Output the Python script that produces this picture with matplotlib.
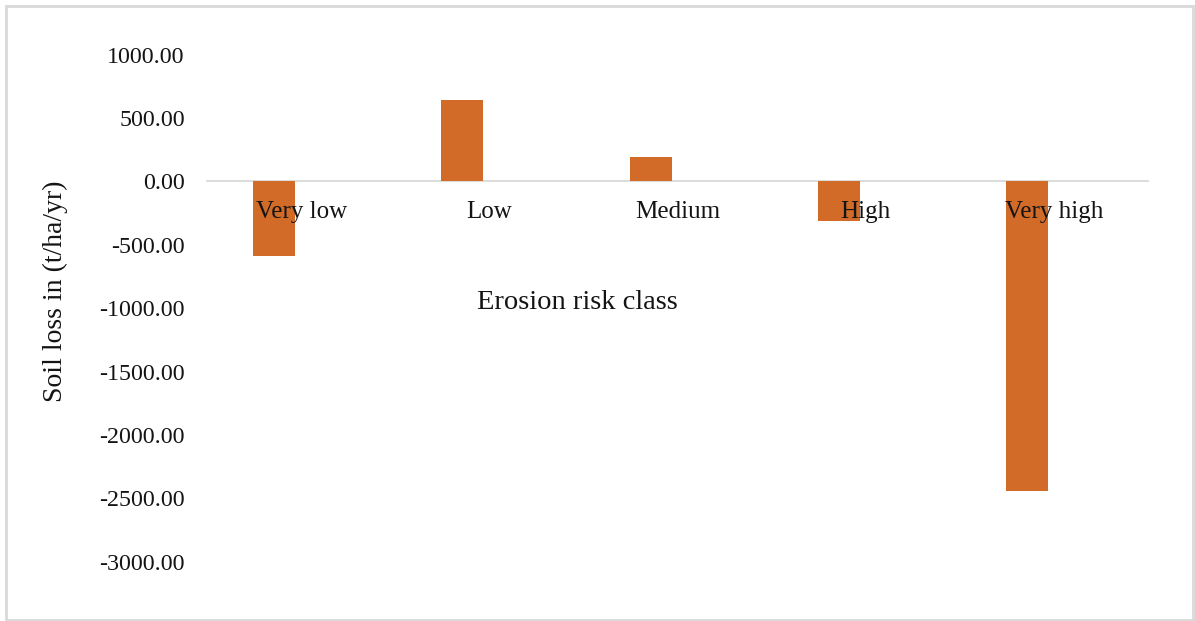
import matplotlib
matplotlib.use("Agg")
import matplotlib.pyplot as plt
import numpy as np
from matplotlib.patches import Rectangle
from matplotlib.ticker import FormatStrFormatter, FixedLocator

# Soil loss change per erosion risk class
categories = ["Very low", "Low", "Medium", "High", "Very high"]
soil_loss = [-590, 640, 195, -310, -2440]
y_ticks = [1000, 500, 0, -500, -1000, -1500, -2000, -2500, -3000]

BAR_COLOR = "#D26A28"
GRID_COLOR = "#D9D9D9"
TEXT_COLOR = "#141414"
plt.rcParams["font.family"] = ["Liberation Serif", "DejaVu Serif"]

W, H = 1195, 621
fig = plt.figure(figsize=(W / 100, H / 100), dpi=100)

# plot area in pixels
left_px, right_px = 207, 1148
y0_px, px_per_1000 = 181.5, 126.7
ymin, ymax = -3350, 1000
top_px = y0_px - ymax / 1000 * px_per_1000
bot_px = y0_px - ymin / 1000 * px_per_1000
ax = fig.add_axes([left_px / W, 1 - bot_px / H,
                   (right_px - left_px) / W, (bot_px - top_px) / H])

x = np.arange(len(categories))
cat_px = (right_px - left_px) / len(categories)
bar_offset = -27 / cat_px
bar_width = 42 / cat_px
ax.bar(x + bar_offset, soil_loss, width=bar_width, color=BAR_COLOR, zorder=2)

ax.set_xlim(-0.5, len(categories) - 0.5)
ax.set_ylim(ymin, ymax)

for side in ("left", "right", "top"):
    ax.spines[side].set_visible(False)
ax.spines["bottom"].set_position(("data", 0))
ax.spines["bottom"].set_color(GRID_COLOR)
ax.spines["bottom"].set_linewidth(1.3)
ax.spines["bottom"].set_zorder(1)

# category labels sit next to the zero axis, drawn above the bars
ax.set_xticks([])
for xi, name in zip(x, categories):
    ax.annotate(name, xy=(xi, 0), xycoords="data", xytext=(0, -31),
                textcoords="offset pixels", ha="center", va="center",
                fontsize=18, color=TEXT_COLOR, zorder=5,
                annotation_clip=False)

ax.yaxis.set_major_locator(FixedLocator(y_ticks))
ax.yaxis.set_major_formatter(FormatStrFormatter("%.2f"))
ax.tick_params(axis="y", length=0, pad=16, labelsize=17.3, labelcolor=TEXT_COLOR)

fig.text(577.5 / W, 1 - 303 / H, "Erosion risk class", fontsize=20.5,
         ha="center", va="center", color=TEXT_COLOR)
fig.text(55 / W, 1 - 291 / H, "Soil loss in (t/ha/yr)", fontsize=20,
         rotation=90, ha="center", va="center", color=TEXT_COLOR)

# chart frame
fig.patches.append(Rectangle((6 / W, 1 / H), (1193 - 6) / W, (615 - 1) / H,
                             transform=fig.transFigure, fill=False,
                             edgecolor=GRID_COLOR, linewidth=2))

fig.savefig("out.png", dpi=100, facecolor="white")
